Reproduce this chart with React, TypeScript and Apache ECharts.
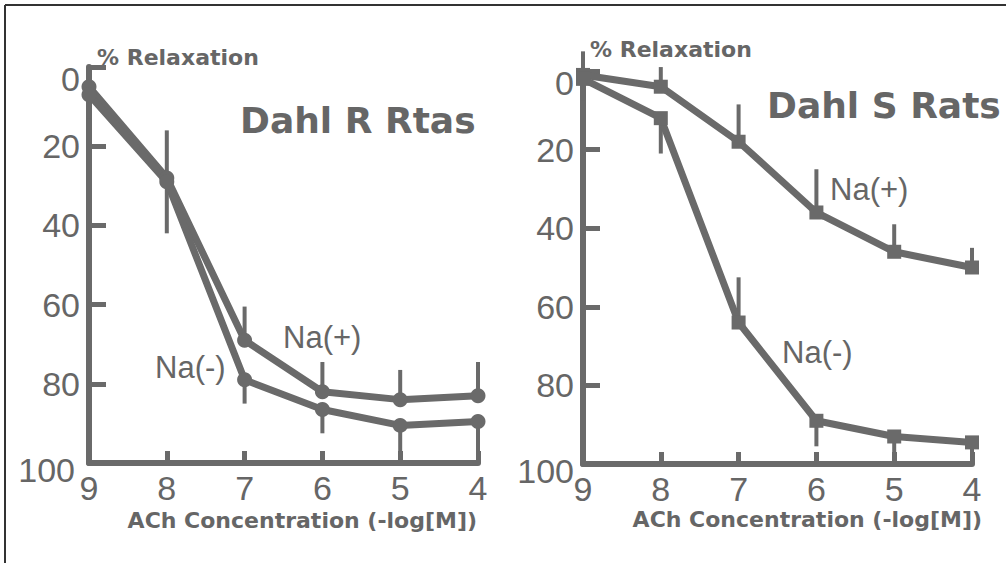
import React, { useEffect, useRef } from "react";
import * as echarts from "echarts";

// Categories: ACh concentration (-log[M])
const concentrations = ["9", "8", "7", "6", "5", "4"];
const yTicks = [0, 20, 40, 60, 80, 100];

// Dahl R rats (% relaxation)
const rNaPlus = [5, 28, 69, 82, 84, 83];
const rNaMinus = [7, 29, 79, 86.5, 90.5, 89.5];
// error bar end values
const rNaPlusErr = [0, 16, 60.5, 74.5, 76.5, 74.5];
const rNaMinusErr = [13, 42, 85, 92.5, 99, 100];

// Dahl S rats (% relaxation)
const sNaPlus = [1, 4, 18, 36, 46, 50];
const sNaMinus = [2, 12, 64, 89, 93, 94.5];
const sNaPlusErr = [-5, -1, 8.5, 25, 39, 45];
const sNaMinusErr = [7.5, 21, 52.5, 95.5, 99.5, 100];

const GRAY = "#6a6a6a";
const TEXT = "#666666";
const BOLD_FONT = "DejaVu Sans";
const LIGHT_FONT = "Liberation Sans";

function errData(vals: number[], ends: number[]) {
  return vals.map((v, i) => [i, v, ends[i]]);
}

function errSeries(name: string, vals: number[], ends: number[], idx: number) {
  return {
    name,
    type: "custom",
    xAxisIndex: idx,
    yAxisIndex: idx,
    clip: false,
    z: 1,
    encode: { x: 0, y: [1, 2] },
    data: errData(vals, ends),
    renderItem: (params: any, api: any) => {
      const p1 = api.coord([api.value(0), api.value(1)]);
      const p2 = api.coord([api.value(0), api.value(2)]);
      return {
        type: "line",
        shape: { x1: p1[0], y1: p1[1], x2: p2[0], y2: p2[1] },
        style: { stroke: GRAY, lineWidth: 4 },
      };
    },
  };
}

function lineSeries(name: string, vals: number[], idx: number, symbol: string) {
  return {
    name,
    type: "line",
    xAxisIndex: idx,
    yAxisIndex: idx,
    data: vals,
    symbol,
    symbolSize: symbol === "circle" ? 15 : 14,
    showSymbol: true,
    z: 3,
    lineStyle: { color: GRAY, width: 7 },
    itemStyle: { color: GRAY, borderWidth: 0 },
  };
}

function xAxis(idx: number) {
  return {
    type: "category",
    gridIndex: idx,
    position: "bottom",
    data: concentrations,
    boundaryGap: false,
    axisLine: { show: true, onZero: false, lineStyle: { color: GRAY, width: 6 } },
    axisTick: { show: true, inside: true, length: 12, lineStyle: { color: GRAY, width: 5 } },
    axisLabel: { color: TEXT, fontSize: 34, fontFamily: LIGHT_FONT, margin: 8 },
    splitLine: { show: false },
  };
}

function yAxis(idx: number) {
  const right100 = idx === 0 ? 5 : 0;
  return {
    type: "value",
    gridIndex: idx,
    min: 0,
    max: 100,
    interval: 20,
    inverse: true,
    axisLine: { show: true, onZero: false, lineStyle: { color: GRAY, width: 6 } },
    axisTick: { show: true, inside: true, length: 17, lineStyle: { color: GRAY, width: 5 } },
    axisLabel: {
      color: TEXT,
      fontSize: 34,
      fontFamily: LIGHT_FONT,
      margin: 9,
      formatter: (v: number) => {
        if (!yTicks.includes(v)) return "";
        if (v === 0) return "{top|0}";
        if (v === 100) return "{bot|100}";
        return String(v);
      },
      rich: {
        top: { color: TEXT, fontSize: 34, fontFamily: LIGHT_FONT, padding: [24, 0, 0, 0] },
        bot: { color: TEXT, fontSize: 34, fontFamily: LIGHT_FONT, padding: [14, right100, 0, 0] },
      },
    },
    splitLine: { show: false },
  };
}

function txt(text: string, x: number, baseline: number, size: number, bold: boolean, align = "left") {
  return {
    type: "text",
    x,
    y: baseline - 0.35 * size,
    z: 10,
    style: {
      text,
      fill: TEXT,
      fontSize: size,
      fontFamily: bold ? BOLD_FONT : LIGHT_FONT,
      fontWeight: bold ? "bold" : "normal",
      textAlign: align,
      textVerticalAlign: "middle",
      verticalAlign: "middle",
    },
  };
}

export default function App() {
  const ref = useRef<HTMLDivElement>(null);
  useEffect(() => {
    if (!ref.current) return;
    const chart = echarts.init(ref.current, undefined, { renderer: "svg" });
    chart.setOption({
      animation: false,
      backgroundColor: "#ffffff",
      grid: [
        { left: 89, right: 528, top: 67, bottom: 100 },
        { left: 583, right: 34, top: 71, bottom: 99 },
      ],
      xAxis: [xAxis(0), xAxis(1)],
      yAxis: [yAxis(0), yAxis(1)],
      series: [
        errSeries("R Na(+) SEM", rNaPlus, rNaPlusErr, 0),
        errSeries("R Na(-) SEM", rNaMinus, rNaMinusErr, 0),
        errSeries("S Na(+) SEM", sNaPlus, sNaPlusErr, 1),
        errSeries("S Na(-) SEM", sNaMinus, sNaMinusErr, 1),
        lineSeries("R Na(+)", rNaPlus, 0, "circle"),
        lineSeries("R Na(-)", rNaMinus, 0, "circle"),
        lineSeries("S Na(+)", sNaPlus, 1, "rect"),
        lineSeries("S Na(-)", sNaMinus, 1, "rect"),
      ],
      graphic: [
        { type: "line", shape: { x1: 5, y1: 5, x2: 1006, y2: 5 }, style: { stroke: "#333", lineWidth: 2 } },
        { type: "line", shape: { x1: 5, y1: 5, x2: 5, y2: 563 }, style: { stroke: "#333", lineWidth: 2 } },
        txt("% Relaxation", 97, 65, 22, true),
        txt("% Relaxation", 590, 57, 22, true),
        txt("Dahl R Rtas", 240, 133, 36, true),
        txt("Dahl S Rats", 767, 118, 36, true),
        txt("ACh Concentration (-log[M])", 477, 528, 22, true, "right"),
        txt("ACh Concentration (-log[M])", 982, 527, 22, true, "right"),
        txt("Na(+)", 283, 348, 31, false),
        txt("Na(-)", 155, 378, 31, false),
        txt("Na(+)", 830, 200, 31, false),
        txt("Na(-)", 782, 363, 31, false),
      ],
    });
    return () => chart.dispose();
  }, []);
  return (
    <div
      ref={ref}
      style={{ position: "fixed", left: 0, top: 0, width: 1006, height: 563, background: "#fff" }}
    />
  );
}
